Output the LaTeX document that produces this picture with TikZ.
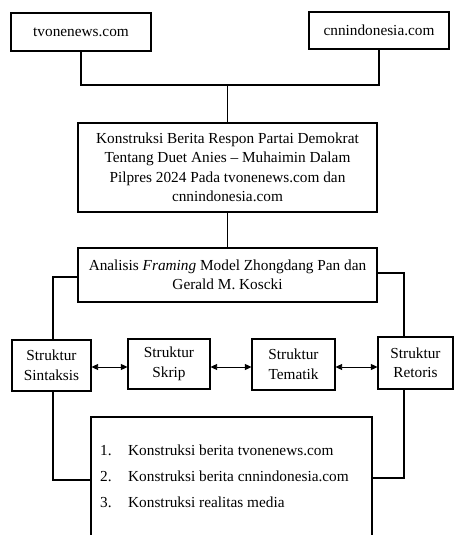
\documentclass[tikz,border=0pt]{standalone}
\usepackage{fontspec}
\setmainfont{Liberation Serif}
\usetikzlibrary{arrows.meta}
\begin{document}
\begin{tikzpicture}[x=1pt,y=-1pt,
  box/.style={draw, line width=1.1pt, inner sep=0pt, align=center,
    font=\fontsize{15.3}{19.5}\selectfont},
  conn/.style={line width=1.1pt},
  dbl/.style={line width=0.8pt,
    {Triangle[length=6.5pt,width=6pt]}-{Triangle[length=6.5pt,width=6pt]}}]
\useasboundingbox (0,0) rectangle (454,535);
% boxes
\node[box, minimum width=140pt, minimum height=38pt] (tv) at (81,32) {tvonenews.com};
\node[box, minimum width=140pt, minimum height=37pt] (cnn) at (379,30.5) {cnnindonesia.com};
\node[box, minimum width=299pt, minimum height=89pt] (main) at (227.5,167.5)
  {Konstruksi Berita Respon Partai Demokrat\\Tentang Duet Anies -- Muhaimin Dalam\\Pilpres 2024 Pada tvonenews.com dan\\cnnindonesia.com};
\node[box, minimum width=299pt, minimum height=54pt] (ana) at (227.5,275)
  {Analisis \textit{Framing} Model Zhongdang Pan dan\\Gerald M. Koscki};
\node[box, minimum width=79pt, minimum height=51pt] (sint) at (51.5,365.5) {Struktur\\Sintaksis};
\node[box, minimum width=82pt, minimum height=50pt] (skrip) at (169,364) {Struktur\\Skrip};
\node[box, minimum width=83pt, minimum height=51pt] (tema) at (293.5,364.5) {Struktur\\Tematik};
\node[box, minimum width=75pt, minimum height=52pt] (ret) at (415.5,363) {Struktur\\Retoris};
\node[box, minimum width=281pt, minimum height=143pt] (bot) at (231.5,488.5) {};
\node[anchor=west, inner sep=0pt, align=left, font=\fontsize{15.3}{26}\selectfont] (list) at (100,476)
  {\makebox[28pt][l]{1.}Konstruksi berita tvonenews.com\\
   \makebox[28pt][l]{2.}Konstruksi berita cnnindonesia.com\\
   \makebox[28pt][l]{3.}Konstruksi realitas media};
% connectors
\coordinate (j) at (227.5,85);
\draw[conn] (tv.south) |- (j) -| (cnn.south);
\draw[conn] (j) -- (main.north);
\draw[conn] (main.south) -- (ana.north);
\draw[conn] (ana.west |- 0,277) -| ([xshift=1.5pt]sint.north);
\draw[conn] (ana.east |- 0,273) -| ([xshift=-11.5pt]ret.north);
\draw[dbl] (sint.east |- 0,367) -- (skrip.west |- 0,367);
\draw[dbl] (skrip.east |- 0,367) -- (tema.west |- 0,367);
\draw[dbl] (tema.east |- 0,367) -- (ret.west |- 0,367);
\draw[conn] ([xshift=1.5pt]sint.south) |- (bot.west |- 0,480);
\draw[conn] ([xshift=-11.5pt]ret.south) |- (bot.east |- 0,478);
\end{tikzpicture}
\end{document}
